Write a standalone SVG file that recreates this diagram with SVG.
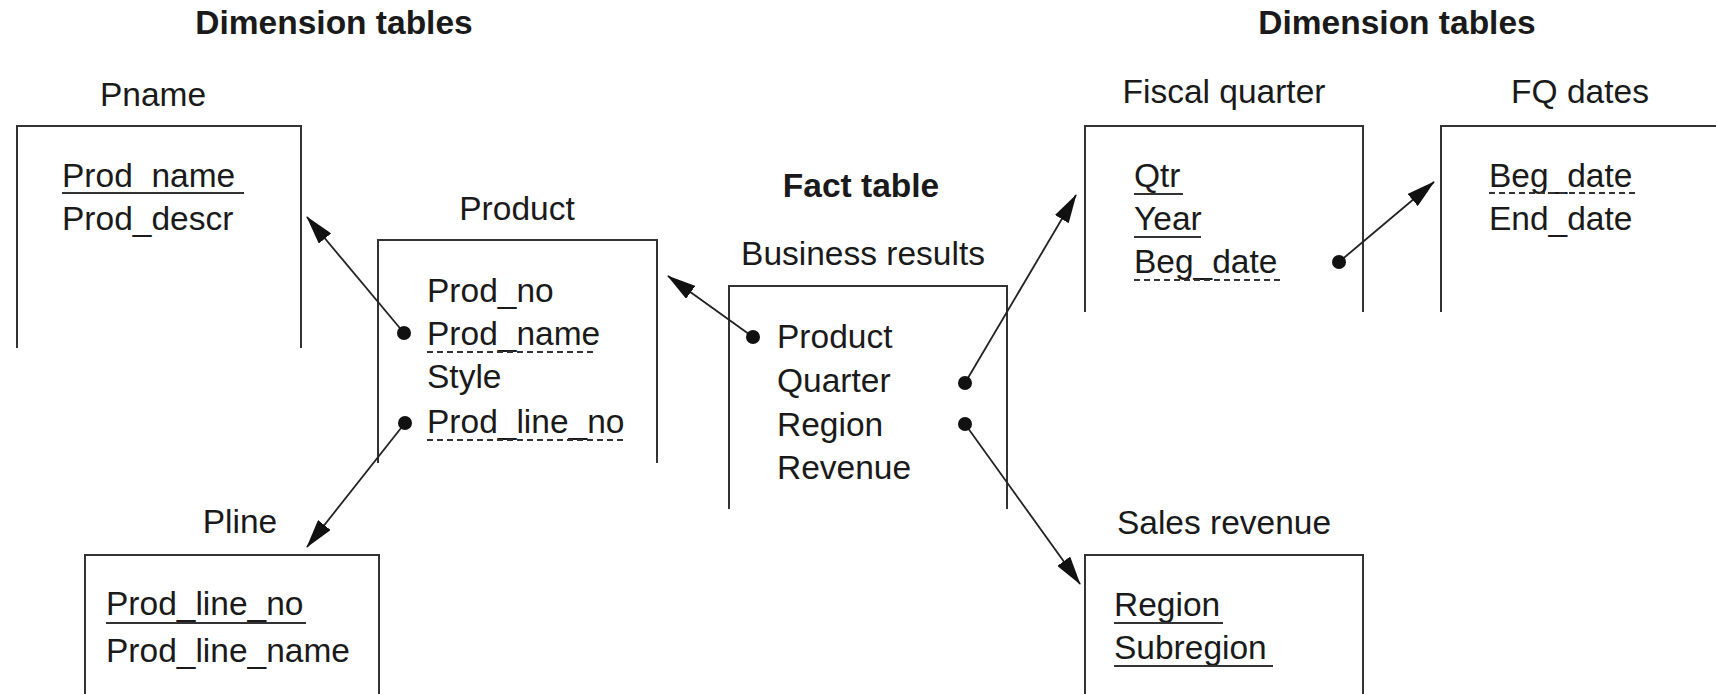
<svg xmlns="http://www.w3.org/2000/svg" width="1716" height="694" viewBox="0 0 1716 694">
<defs>
<style>
text{font-family:"Liberation Sans",Arial,sans-serif;font-size:33.5px;fill:#1a1a1a}
.b{font-weight:bold}
.m{text-anchor:middle}
.box{fill:none;stroke:#333;stroke-width:2}
.u{stroke:#333;stroke-width:2}
.d{stroke:#333;stroke-width:2;stroke-dasharray:6 4}
.c{stroke:#222;stroke-width:1.8;fill:none;marker-end:url(#ah)}
.dot{fill:#111}
</style>
<marker id="ah" markerUnits="userSpaceOnUse" markerWidth="29" markerHeight="16" viewBox="0 0 29 16" refX="28" refY="8" orient="auto">
<path d="M0,0 L29,8 L0,16 z" fill="#111"/>
</marker>
</defs>
<rect width="1716" height="694" fill="#fff"/>
<text class="b m" x="334" y="34">Dimension tables</text>
<text class="b m" x="1397" y="34">Dimension tables</text>
<text class="b m" x="861" y="197">Fact table</text>

<g id="pname">
<text class="m" x="153" y="106">Pname</text>
<path class="box" d="M17,348 V126 H301 V348"/>
<text x="62" y="187">Prod_name</text>
<line class="u" x1="62" y1="193" x2="244" y2="193"/>
<text x="62" y="230">Prod_descr</text>
</g>

<g id="product">
<text class="m" x="517" y="220">Product</text>
<path class="box" d="M378,463 V240 H657 V463"/>
<text x="427" y="302">Prod_no</text>
<text x="427" y="345">Prod_name</text>
<line class="d" x1="427" y1="352" x2="597" y2="352"/>
<text x="427" y="388">Style</text>
<text x="427" y="433">Prod_line_no</text>
<line class="d" x1="427" y1="440" x2="626" y2="440"/>
</g>

<g id="pline">
<text class="m" x="240" y="533">Pline</text>
<path class="box" d="M85,694 V555 H379 V694"/>
<text x="106" y="615">Prod_line_no</text>
<line class="u" x1="106" y1="623" x2="306" y2="623"/>
<text x="106" y="662">Prod_line_name</text>
</g>

<g id="business">
<text class="m" x="863" y="265">Business results</text>
<path class="box" d="M729,509 V286 H1007 V509"/>
<text x="777" y="348">Product</text>
<text x="777" y="392">Quarter</text>
<text x="777" y="436">Region</text>
<text x="777" y="479">Revenue</text>
</g>

<g id="fiscal">
<text class="m" x="1224" y="103">Fiscal quarter</text>
<path class="box" d="M1085,312 V126 H1363 V312"/>
<text x="1134" y="187">Qtr</text>
<line class="u" x1="1134" y1="194" x2="1183" y2="194"/>
<text x="1134" y="230">Year</text>
<line class="u" x1="1134" y1="237" x2="1201" y2="237"/>
<text x="1134" y="273">Beg_date</text>
<line class="d" x1="1134" y1="280" x2="1283" y2="280"/>
</g>

<g id="fqdates">
<text class="m" x="1580" y="103">FQ dates</text>
<path class="box" d="M1441,312 V126 H1716"/>
<text x="1489" y="187">Beg_date</text>
<line class="d" x1="1489" y1="193" x2="1637" y2="193"/>
<text x="1489" y="230">End_date</text>
</g>

<g id="sales">
<text class="m" x="1224" y="534">Sales revenue</text>
<path class="box" d="M1085,694 V555 H1363 V694"/>
<text x="1114" y="616">Region</text>
<line class="u" x1="1114" y1="623" x2="1223" y2="623"/>
<text x="1114" y="659">Subregion</text>
<line class="u" x1="1114" y1="666" x2="1273" y2="666"/>
</g>

<g id="connectors">
<line class="c" x1="404" y1="333" x2="307" y2="217"/>
<circle class="dot" cx="404" cy="333" r="7"/>
<line class="c" x1="405" y1="423" x2="307" y2="547"/>
<circle class="dot" cx="405" cy="423" r="7"/>
<line class="c" x1="753" y1="337" x2="668" y2="276"/>
<circle class="dot" cx="753" cy="337" r="7"/>
<line class="c" x1="965" y1="383" x2="1076" y2="195"/>
<circle class="dot" cx="965" cy="383" r="7"/>
<line class="c" x1="965" y1="424" x2="1080" y2="584"/>
<circle class="dot" cx="965" cy="424" r="7"/>
<line class="c" x1="1339" y1="262" x2="1434" y2="182"/>
<circle class="dot" cx="1339" cy="262" r="7"/>
</g>
</svg>
